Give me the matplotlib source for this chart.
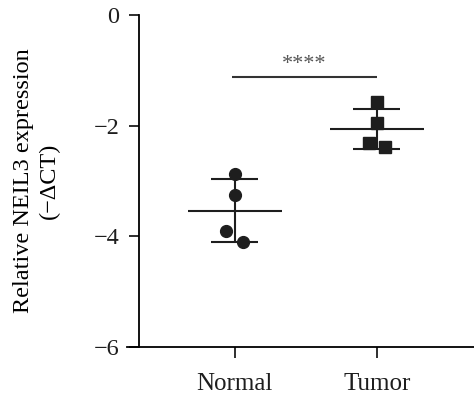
import numpy as np
import matplotlib
matplotlib.use('Agg')
import matplotlib.pyplot as plt

groups = ['Normal', 'Tumor']
normal_vals = [-2.87, -3.25, -3.91, -4.11]
tumor_vals = [-1.58, -1.96, -2.32, -2.38]
normal_jitter = [0.0, 0.0, -0.06, 0.06]
tumor_jitter = [0.0, 0.0, -0.055, 0.06]
y_ticks = [0, -2, -4, -6]
sig_label = '****'
sig_y = -1.12

plt.rcParams['font.family'] = ['Liberation Serif', 'DejaVu Serif']
plt.rcParams['axes.unicode_minus'] = True

fig = plt.figure(figsize=(4.74, 3.98), dpi=100)
ax = fig.add_axes([139 / 474, 1 - 347 / 398, 1 - 139 / 474, (347 - 15) / 398])

ink = '#1e1e1e'
for i, (vals, jit, marker) in enumerate([(normal_vals, normal_jitter, 'o'),
                                          (tumor_vals, tumor_jitter, 's')]):
    x0 = i + 1
    vals = np.array(vals)
    mean = vals.mean()
    sd = vals.std(ddof=1)
    ax.hlines(mean, x0 - 0.33, x0 + 0.33, color=ink, lw=1.5, zorder=2)
    ax.hlines([mean - sd, mean + sd], x0 - 0.165, x0 + 0.165, color=ink, lw=1.5, zorder=2)
    ax.vlines(x0, mean - sd, mean + sd, color=ink, lw=1.5, zorder=2)
    ax.plot(x0 + np.array(jit), vals, marker, color=ink, ms=8.5, ls='none', zorder=3)

# significance bar
ax.hlines(sig_y, 0.98, 2.0, color='#333333', lw=1.5)
ax.text(1.49, sig_y + 0.05, sig_label, ha='center', va='bottom', fontsize=16, color='#555555')

ax.set_xlim(0.326, 2.685)
ax.set_ylim(-6, 0)
ax.set_xticks([1, 2])
ax.set_xticklabels(groups, fontsize=18)
ax.set_yticks(y_ticks)
ax.set_yticklabels([f'\u2212{abs(t)}' if t < 0 else str(t) for t in y_ticks], fontsize=17.5)
ax.set_ylabel('Relative NEIL3 expression\n(\u2212\u0394CT)', fontsize=17.5, linespacing=1.3)
ax.yaxis.set_label_coords(-0.235, 0.5)

for s in ['top', 'right']:
    ax.spines[s].set_visible(False)
ax.spines['left'].set_linewidth(1.3)
ax.spines['bottom'].set_linewidth(1.3)
ax.spines['bottom'].set_bounds(0.24, 2.685)
ax.tick_params(axis='y', length=7, width=1.3, pad=7, colors=ink)
ax.tick_params(axis='x', length=8, width=1.3, pad=11, colors=ink)

fig.savefig('out.png', dpi=100)
